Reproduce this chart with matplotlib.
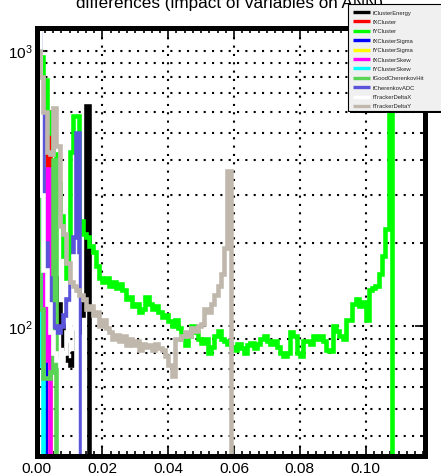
import numpy as np
import matplotlib
matplotlib.use('Agg')
import matplotlib.pyplot as plt
from matplotlib.patches import Rectangle
from matplotlib.lines import Line2D
from matplotlib.ticker import MultipleLocator, LogLocator, NullFormatter

plt.rcParams['font.family'] = ['Liberation Sans', 'DejaVu Sans']

W, H = 441, 477
bin_width = 0.001
n_bins = 118
edges = np.arange(n_bins + 1) * bin_width

names = ["fClusterEnergy", "fXCluster", "fYCluster", "fXClusterSigma",
         "fYClusterSigma", "fXClusterSkew", "fYClusterSkew",
         "fGoodCherenkovHit", "fCherenkovADC", "fTrackerDeltaX", "fTrackerDeltaY"]
colors = ["#000000", "#ff0000", "#00ff00", "#0000ff", "#ffff00", "#ff00ff",
          "#00ffff", "#59d454", "#5954d9", "#ffffff", "#c1b8ad"]

# bin contents (leading bins; remaining bins are zero)
cluster_energy = [3000, 800, 400, 260, 190, 150, 120, 100, 85, 75, 72, 80, 95, 110, 120, 627]
x_cluster = [3000, 700, 70, 600]
y_cluster = [1100, 950, 780, 600, 500, 420, 330, 250, 180, 150,
             430, 580, 580, 240, 215, 210, 195, 185, 165, 150,
             145, 150, 140, 145, 138, 142, 135, 125, 128, 118,
             120, 112, 115, 128, 120, 115, 118, 112, 108, 110,
             104, 100, 105, 98, 90, 85, 92, 100, 95, 90,
             87, 90, 80, 84, 92, 96, 90, 88, 86, 84,
             82, 86, 83, 80, 85, 87, 83, 86, 90, 92,
             88, 86, 88, 84, 80, 78, 80, 95, 92, 80,
             78, 88, 88, 86, 92, 90, 92, 88, 82, 81,
             100, 96, 92, 90, 105, 105, 120, 125, 118, 122,
             105, 135, 138, 140, 155, 180, 225, 3000]
x_cluster_sigma = [3000, 450, 95]
y_cluster_sigma = [3000, 500, 350, 300]
x_cluster_skew = [3000, 300, 75, 370]
y_cluster_skew = [3000, 72]
good_cherenkov_hit = [3000, 115, 65, 65, 68, 400]
cherenkov_adc = [3000, 600, 200, 150, 120, 100, 95, 100, 110, 125, 145, 210, 500]
tracker_delta_x = [3000, 300, 160, 120, 95, 80, 75, 72, 80, 95, 120, 180]
tracker_delta_y = [1000, 800, 600, 430, 420, 620, 450, 230, 215, 170,
                   145, 140, 135, 130, 125, 115, 118, 110, 112, 100,
                   105, 98, 95, 90, 93, 88, 92, 85, 90, 85,
                   88, 82, 86, 84, 85, 82, 86, 83, 82, 78,
                   72, 66, 90, 90, 92, 95, 92, 98, 96, 100,
                   102, 115, 112, 120, 130, 140, 155, 192, 365]

series = [cluster_energy, x_cluster, y_cluster, x_cluster_sigma, y_cluster_sigma,
          x_cluster_skew, y_cluster_skew, good_cherenkov_hit, cherenkov_adc,
          tracker_delta_x, tracker_delta_y]

x_lim = (0.0, 0.1179)
y_lim = (33.9, 1212)

fig = plt.figure(figsize=(W / 100, H / 100), dpi=100)
ax = fig.add_axes([36.7 / W, 1 - 456.5 / H, (424.5 - 36.7) / W, (456.5 - 28.5) / H])
ax.set_yscale('log')
ax.set_xlim(*x_lim)
ax.set_ylim(*y_lim)

floor = y_lim[0] * 0.9
for vals, col in zip(series, colors):
    v = np.zeros(n_bins)
    v[:len(vals)] = vals
    ax.stairs(np.clip(v, floor, None), edges, baseline=None, color=col,
              linewidth=3.3, zorder=2)

ax.set_axisbelow(True)
ax.grid(which='major', axis='x', color='k', linestyle=(0, (1, 3)), linewidth=1.5)
ax.grid(which='both', axis='y', color='k', linestyle=(0, (1, 3)), linewidth=1.5)

ax.xaxis.set_major_locator(MultipleLocator(0.02))
ax.xaxis.set_minor_locator(MultipleLocator(0.0025))
ax.xaxis.set_major_formatter(plt.FuncFormatter(lambda v, p: f"{v:.2f}"))
ax.yaxis.set_major_locator(LogLocator(base=10))
ax.yaxis.set_minor_locator(LogLocator(base=10, subs=np.arange(2, 10)))
ax.yaxis.set_minor_formatter(NullFormatter())

ax.tick_params(which='both', direction='in', top=True, right=True, width=1.2, color='k')
ax.tick_params(which='major', length=7)
ax.tick_params(which='minor', length=3.5)
ax.tick_params(axis='x', labelsize=11.1, pad=4)
ax.tick_params(axis='y', labelsize=11.1, pad=3)

for s in ax.spines.values():
    s.set_linewidth(3.6)
    s.set_zorder(3)

fig.text(230 / W, 1 - 8 / H, "differences (impact of variables on ANN)",
         ha='center', va='baseline', fontsize=12.3)

# legend box
def fx(x): return x / W
def fy(y): return 1 - y / H

lx0, lx1, ly0, ly1 = 348, 447, 5, 112
fig.patches.append(Rectangle((fx(lx0 + 2), fy(ly1 + 2)), fx(lx1 - lx0), (ly1 - ly0) / H,
                             transform=fig.transFigure, facecolor='black', edgecolor='none', zorder=10))
fig.patches.append(Rectangle((fx(lx0), fy(ly1)), fx(lx1 - lx0), (ly1 - ly0) / H,
                             transform=fig.transFigure, facecolor='#f0f0f0', edgecolor='black',
                             linewidth=0.8, zorder=11))
for k, (nm, col) in enumerate(zip(names, colors)):
    yy = 13 + 9.4 * k
    fig.lines.append(Line2D([fx(353), fx(370)], [fy(yy), fy(yy)], transform=fig.transFigure,
                            color=col, linewidth=2.4, zorder=12, solid_capstyle='butt'))
    fig.text(fx(373), fy(yy), nm, fontsize=4.2, va='center', ha='left', zorder=13, color='#222222')

fig.savefig('out.png', dpi=100)
